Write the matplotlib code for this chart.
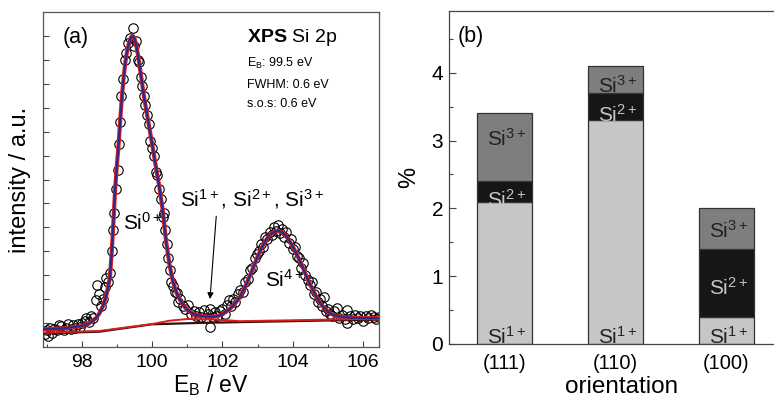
import matplotlib
matplotlib.use("Agg")
import matplotlib.pyplot as plt
import numpy as np

plt.rcParams['font.family'] = ['Liberation Sans', 'DejaVu Sans']
plt.rcParams['mathtext.fontset'] = 'custom'
plt.rcParams['mathtext.rm'] = 'Liberation Sans'
plt.rcParams['mathtext.bf'] = 'Liberation Sans:bold'
plt.rcParams['mathtext.it'] = 'Liberation Sans:italic'

# ---- panel (a): XPS Si 2p spectrum ----
# measured points (binding energy eV, intensity a.u.)
points = [
    (96.95, -0.45), (97.0, -0.3), (97.05, -0.55), (97.1, -0.2), (97.15, -0.4),
    (97.2, -0.25), (97.3, -0.3), (97.35, -0.1), (97.42, -0.13), (97.5, -0.3),
    (97.55, -0.2), (97.62, -0.05), (97.7, -0.25), (97.75, -0.1), (97.82, -0.2),
    (97.88, -0.05), (97.95, -0.15), (98.02, 0.0), (98.08, 0.1), (98.13, 0.22),
    (98.2, 0.05), (98.27, 0.3), (98.33, 0.2), (98.4, 0.96), (98.43, 1.58),
    (98.48, 1.2), (98.55, 0.7), (98.6, 1.0), (98.65, 1.5), (98.7, 1.9),
    (98.75, 1.7), (98.8, 2.1), (98.85, 3.0), (98.9, 3.9), (98.93, 4.6),
    (98.97, 5.6), (99.02, 6.4), (99.05, 7.5), (99.1, 8.4), (99.13, 9.5),
    (99.18, 10.2), (99.22, 11.0), (99.27, 11.3), (99.32, 11.7), (99.38, 11.9),
    (99.45, 12.35), (99.5, 11.6), (99.55, 11.8), (99.6, 11.0), (99.64, 10.9),
    (99.68, 10.3), (99.72, 9.9), (99.76, 9.5), (99.8, 9.1), (99.85, 8.7),
    (99.9, 8.3), (99.95, 7.6), (100.0, 7.3), (100.05, 7.0), (100.1, 6.3),
    (100.15, 6.2), (100.2, 5.6), (100.25, 5.2), (100.3, 4.45), (100.33, 4.6),
    (100.37, 3.9), (100.42, 3.3), (100.46, 2.7), (100.5, 2.2), (100.55, 1.7),
    (100.6, 1.55), (100.65, 1.3), (100.7, 1.25), (100.75, 0.9), (100.8, 1.0),
    (100.87, 0.7), (100.95, 0.6), (101.02, 0.75), (101.1, 0.4), (101.18, 0.5),
    (101.25, 0.3), (101.32, 0.45), (101.4, 0.25), (101.47, 0.55), (101.52, 0.2),
    (101.58, 0.4), (101.66, 0.6), (101.66, -0.18), (101.72, 0.25), (101.8, 0.45),
    (101.86, 0.3), (101.93, 0.5), (102.0, 0.6), (102.06, 0.4), (102.12, 0.75),
    (102.18, 0.96), (102.24, 0.7), (102.3, 1.0), (102.37, 0.9), (102.44, 1.2),
    (102.51, 1.38), (102.58, 1.3), (102.65, 1.7), (102.72, 1.85), (102.78, 2.2),
    (102.85, 2.3), (102.92, 2.7), (102.98, 2.9), (103.05, 3.0), (103.1, 3.3),
    (103.16, 3.2), (103.22, 3.6), (103.28, 3.5), (103.34, 3.8), (103.4, 3.7),
    (103.46, 4.0), (103.52, 3.85), (103.58, 4.1), (103.64, 3.75), (103.7, 3.95),
    (103.76, 3.6), (103.82, 3.8), (103.88, 3.35), (103.94, 3.5), (104.0, 3.1),
    (104.06, 3.2), (104.12, 2.8), (104.18, 2.7), (104.24, 2.3), (104.3, 2.5),
    (104.36, 2.0), (104.42, 1.8), (104.48, 1.6), (104.54, 1.7), (104.6, 1.2),
    (104.66, 1.3), (104.72, 0.9), (104.78, 1.0), (104.84, 0.7), (104.88, 1.08),
    (104.94, 0.5), (105.0, 0.6), (105.06, 0.4), (105.12, 0.3), (105.18, 0.5),
    (105.27, 0.61), (105.32, 0.2), (105.4, 0.35), (105.48, 0.15), (105.55, 0.54),
    (105.55, -0.01), (105.62, 0.3), (105.7, 0.15), (105.78, 0.35), (105.85, 0.2),
    (105.92, 0.3), (106.0, 0.1), (106.08, 0.3), (106.15, 0.2), (106.22, 0.35),
    (106.3, 0.26), (106.38, 0.15), (106.45, 0.25),
]

# fitted envelope
fit_e = [96.9, 97.5, 98.0, 98.2, 98.4, 98.5, 98.6, 98.7, 98.8, 98.85,
         98.9, 98.95, 99.0, 99.05, 99.1, 99.15, 99.2, 99.25, 99.3, 99.35,
         99.4, 99.45, 99.5, 99.55, 99.6, 99.65, 99.7, 99.76, 99.8, 99.9,
         100.0, 100.1, 100.2, 100.3, 100.4, 100.5, 100.6, 100.7, 100.8, 100.9,
         101.0, 101.1, 101.2, 101.3, 101.4, 101.5, 101.6, 101.7, 101.8, 101.9,
         102.0, 102.1, 102.2, 102.3, 102.4, 102.5, 102.6, 102.7, 102.8, 102.9,
         103.0, 103.1, 103.2, 103.3, 103.4, 103.5, 103.6, 103.7, 103.8, 103.9,
         104.0, 104.1, 104.2, 104.3, 104.4, 104.5, 104.6, 104.7, 104.8, 104.9,
         105.0, 105.1, 105.2, 105.4, 105.6, 106.0, 106.45]
fit_i = [-0.26, -0.22, -0.12, -0.02, 0.2, 0.4, 0.7, 1.15, 1.9, 2.9,
         4.2, 5.6, 6.6, 7.5, 8.6, 9.6, 10.4, 11.0, 11.45, 11.75,
         11.95, 12.0, 11.9, 11.6, 11.2, 10.7, 10.2, 9.57, 9.2, 8.35,
         7.5, 6.6, 5.75, 4.75, 3.4, 2.4, 1.7, 1.25, 0.95, 0.72,
         0.55, 0.45, 0.38, 0.33, 0.3, 0.28, 0.27, 0.26, 0.28, 0.31,
         0.38, 0.47, 0.58, 0.72, 0.9, 1.1, 1.38, 1.7, 2.05, 2.4,
         2.78, 3.1, 3.38, 3.6, 3.75, 3.83, 3.85, 3.8, 3.66, 3.45,
         3.2, 2.92, 2.6, 2.27, 1.92, 1.6, 1.3, 1.03, 0.8, 0.62,
         0.48, 0.38, 0.32, 0.26, 0.23, 0.21, 0.2]

# backgrounds (Shirley-like)
bg_black_e = [96.9, 98.5, 100.0, 101.4, 106.45]
bg_black_i = [-0.43, -0.36, -0.05, 0.01, 0.15]
bg_red_e = [96.9, 98.5, 100.0, 100.5, 101.0, 101.8, 102.5, 106.45]
bg_red_i = [-0.4, -0.33, -0.04, 0.1, 0.17, 0.15, 0.08, 0.18]

# ---- panel (b): suboxide fractions ----
orient = ['(111)', '(110)', '(100)']
si1 = [2.1, 3.3, 0.4]
si2 = [0.3, 0.4, 1.0]
si3 = [1.0, 0.4, 0.6]

c1, c2, c3 = '#c6c6c6', '#161616', '#7e7e7e'

fig = plt.figure(figsize=(7.74, 4.07), dpi=100)

ax1 = fig.add_axes([0.0556, 0.1474, 0.434, 0.823])
pe = np.array([p[0] for p in points])
pi = np.array([p[1] for p in points])
ax1.plot(pe, pi, 'o', mfc='none', mec='black', ms=6.8, mew=0.8, zorder=2)
ax1.plot(bg_black_e, bg_black_i, color='#301010', lw=1.6, zorder=3)
ax1.plot(bg_red_e, bg_red_i, color='#e01a1a', lw=1.4, zorder=3)
ax1.plot(fit_e, fit_i, color='#e02020', lw=3.0, zorder=4)
ax1.plot(fit_e, fit_i, color='#2a2a8e', lw=1.6, zorder=5)

ax1.set_xlim(96.9, 106.45)
ax1.set_ylim(-1, 13)
ax1.set_xticks([98, 100, 102, 104, 106])
ax1.set_xticks([97, 99, 101, 103, 105], minor=True)
ax1.set_yticks(range(0, 13))
ax1.set_yticklabels([])
ax1.tick_params(direction='in', which='both', top=False, right=False,
                labelsize=14, length=4, width=0.8, pad=5, color='#444444')
ax1.tick_params(which='minor', length=2.5)
for s in ax1.spines.values():
    s.set_color('#555555')
    s.set_linewidth(0.9)
ax1.set_ylabel('intensity / a.u.', fontsize=17, labelpad=4)
ax1.set_xlabel(r'$\mathrm{E_B}$ / eV', fontsize=16.5, labelpad=1)

ax1.text(0.057, 0.924, '(a)', transform=ax1.transAxes, fontsize=15.5, va='center')
ax1.text(0.607, 0.91, r'$\mathbf{XPS}$ Si 2p', transform=ax1.transAxes, fontsize=14)
ax1.text(0.607, 0.836, r'$\mathrm{E_B}$: 99.5 eV', transform=ax1.transAxes, fontsize=9)
ax1.text(0.607, 0.773, 'FWHM: 0.6 eV', transform=ax1.transAxes, fontsize=9)
ax1.text(0.607, 0.716, 's.o.s: 0.6 eV', transform=ax1.transAxes, fontsize=9)
ax1.text(99.18, 3.9, r'$\mathrm{Si^{0+}}$', fontsize=15)
ax1.text(100.8, 4.9, r'$\mathrm{Si^{1+}}$, $\mathrm{Si^{2+}}$, $\mathrm{Si^{3+}}$', fontsize=15)
ax1.text(103.22, 1.5, r'$\mathrm{Si^{4+}}$', fontsize=15)
ax1.annotate('', xy=(101.64, 0.89), xytext=(101.83, 4.58),
             arrowprops=dict(arrowstyle='-|>', color='black', lw=0.8,
                             mutation_scale=9))

# panel (b)
ax2 = fig.add_axes([0.580, 0.1548, 0.42, 0.818])
xpos = np.arange(len(orient))
b1 = np.array(si1)
b2 = np.array(si2)
b3 = np.array(si3)
ax2.bar(xpos, b1, 0.5, color=c1, edgecolor='#333333', lw=0.9)
ax2.bar(xpos, b2, 0.5, bottom=b1, color=c2, edgecolor='#333333', lw=0.9)
ax2.bar(xpos, b3, 0.5, bottom=b1 + b2, color=c3, edgecolor='#333333', lw=0.9)

# segment labels
for i in xpos:
    ax2.text(i + 0.02, 0.0, r'$\mathrm{Si^{1+}}$', ha='center', va='baseline',
             fontsize=15, color='#222222')
ax2.text(0.02, 2.02, r'$\mathrm{Si^{2+}}$', ha='center', fontsize=15, color=c1)
ax2.text(0.02, 2.93, r'$\mathrm{Si^{3+}}$', ha='center', fontsize=15, color='#222222')
ax2.text(1.02, 3.27, r'$\mathrm{Si^{2+}}$', ha='center', fontsize=15, color=c1)
ax2.text(1.02, 3.7, r'$\mathrm{Si^{3+}}$', ha='center', fontsize=15, color='#222222')
ax2.text(2.02, 0.72, r'$\mathrm{Si^{2+}}$', ha='center', fontsize=15, color=c1)
ax2.text(2.02, 1.56, r'$\mathrm{Si^{3+}}$', ha='center', fontsize=15, color='#222222')

ax2.set_xlim(-0.5, 2.43)
ax2.set_ylim(0, 4.91)
ax2.set_xticks(xpos)
ax2.set_xticklabels(orient)
ax2.set_yticks([0, 1, 2, 3, 4])
ax2.set_yticks([0.5, 1.5, 2.5, 3.5, 4.5], minor=True)
ax2.tick_params(axis='x', length=0, labelsize=14.5, pad=7)
ax2.tick_params(axis='y', direction='in', which='both', labelsize=15,
                length=5, width=0.8, color='#444444', pad=4)
ax2.tick_params(axis='y', which='minor', length=3)
ax2.spines['right'].set_visible(False)
for s in ['left', 'top', 'bottom']:
    ax2.spines[s].set_color('#444444')
    ax2.spines[s].set_linewidth(0.9)
ax2.set_ylabel('%', fontsize=17, labelpad=8)
ax2.set_xlabel('orientation', fontsize=17.5)
ax2.xaxis.set_label_coords(0.532, -0.095)
ax2.text(0.028, 0.925, '(b)', transform=ax2.transAxes, fontsize=15.5, va='center')

fig.savefig('out.png', dpi=100)
